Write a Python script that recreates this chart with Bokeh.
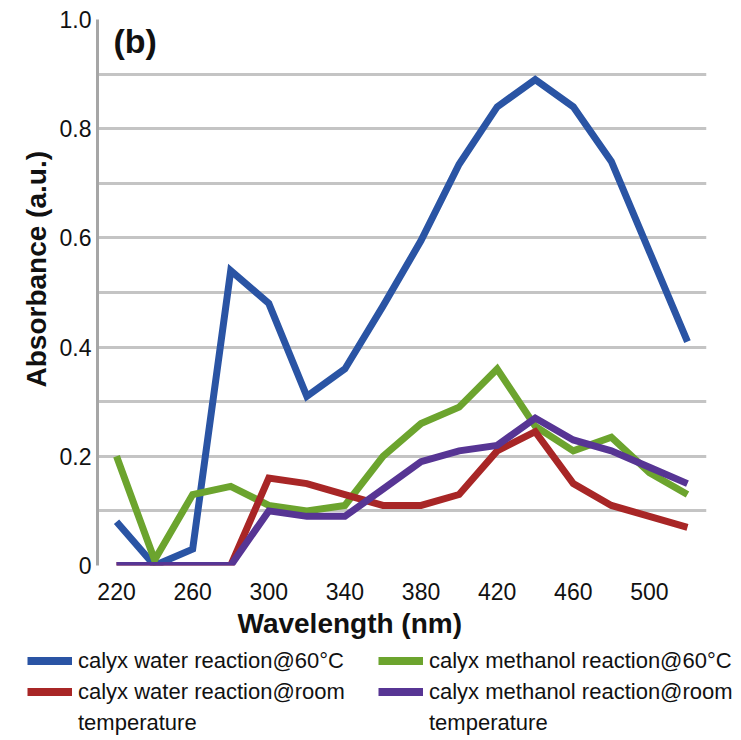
from bokeh.plotting import figure
from bokeh.models import FixedTicker, Label, Legend, LegendItem, Title
from bokeh.embed import file_html
from bokeh.resources import INLINE

wavelength = [220, 240, 260, 280, 300, 320, 340, 360, 380, 400, 420, 440, 460, 480, 500, 520]
water_60 = [0.08, 0.0, 0.03, 0.54, 0.48, 0.31, 0.36, 0.475, 0.595, 0.735, 0.84, 0.89, 0.84, 0.74, 0.575, 0.41]
methanol_60 = [0.20, 0.01, 0.13, 0.145, 0.11, 0.10, 0.11, 0.20, 0.26, 0.29, 0.36, 0.255, 0.21, 0.235, 0.17, 0.13]
water_room = [0.0, 0.0, 0.0, 0.0, 0.16, 0.15, 0.13, 0.11, 0.11, 0.13, 0.21, 0.245, 0.15, 0.11, 0.09, 0.07]
methanol_room = [0.0, 0.0, 0.0, 0.0, 0.10, 0.09, 0.09, 0.14, 0.19, 0.21, 0.22, 0.27, 0.23, 0.21, 0.18, 0.15]

x_tick_values = [220, 260, 300, 340, 380, 420, 460, 500]
y_tick_values = [0, 0.2, 0.4, 0.6, 0.8, 1]
y_grid_values = [0, 0.1, 0.2, 0.3, 0.4, 0.5, 0.6, 0.7, 0.8, 0.9, 1]

series_names = [
    "calyx water reaction@60°C",
    "calyx methanol reaction@60°C",
    "calyx water reaction@room",
    "calyx methanol reaction@room",
]
continuation = "temperature"
colors = ["#2A54A4", "#6CA42E", "#A82626", "#573594"]
series = [water_60, methanol_60, water_room, methanol_room]

FONT = "Liberation Sans"
TEXT = "#111111"

p = figure(frame_width=609, frame_height=546, output_backend="svg", toolbar_location=None,
           x_range=(210, 530), y_range=(0, 1.0),
           min_border_left=97, min_border_right=19, min_border_top=19, min_border_bottom=0)
p.outline_line_color = None

# grids
p.xgrid.visible = False
p.ygrid.ticker = FixedTicker(ticks=y_grid_values)
p.ygrid.grid_line_color = "#C4C4C4"
p.ygrid.grid_line_width = 3

# axes
p.xaxis.ticker = FixedTicker(ticks=x_tick_values)
p.xaxis.axis_line_color = None
p.xaxis.major_tick_line_color = None
p.xaxis.minor_tick_line_color = None
p.xaxis.major_tick_out = 0
p.xaxis.major_tick_in = 0
p.xaxis.minor_tick_out = 0
p.xaxis.major_label_text_font = FONT
p.xaxis.major_label_text_font_size = "23px"
p.xaxis.major_label_text_color = TEXT
p.xaxis.major_label_standoff = 17

p.yaxis.ticker = FixedTicker(ticks=y_tick_values)
p.yaxis.major_label_overrides = {0: "0", 1: "1.0"}
p.yaxis.axis_line_color = "#A6A6A6"
p.yaxis.axis_line_width = 3
p.yaxis.major_tick_line_color = None
p.yaxis.minor_tick_line_color = None
p.yaxis.major_tick_out = 0
p.yaxis.major_tick_in = 0
p.yaxis.minor_tick_out = 0
p.yaxis.major_label_text_font = FONT
p.yaxis.major_label_text_font_size = "23px"
p.yaxis.major_label_text_color = TEXT
p.yaxis.major_label_standoff = 6

for vals, c in zip(series, colors):
    p.line(wavelength, vals, line_color=c, line_width=7, line_join="miter")

# axis titles (offset to match the reference's placement)
p.add_layout(Title(text="Absorbance (a.u.)", align="left", offset=178, standoff=10,
                   text_font=FONT, text_font_style="bold", text_font_size="28px",
                   text_color=TEXT), "left")
p.add_layout(Title(text="Wavelength (nm)", align="left", offset=140, standoff=6,
                   text_font=FONT, text_font_style="bold", text_font_size="28px",
                   text_color=TEXT), "below")
p.add_layout(Label(x=16, y=544, x_units="screen", y_units="screen", text="(b)",
                   text_align="left", text_baseline="top",
                   text_font=FONT, text_font_style="bold", text_font_size="34px", text_color=TEXT))

# legend: a separate strip under the chart
leg = figure(width=741, height=100, output_backend="svg", toolbar_location=None,
             x_range=(210, 530), y_range=(0, 1.0),
             x_axis_location=None, y_axis_location=None,
             min_border_left=27, min_border_right=0, min_border_top=4, min_border_bottom=0)
leg.outline_line_color = None
leg.grid.visible = False
leg_renderers = [leg.line(wavelength, vals, line_color=c, line_width=8, visible=False)
                 for vals, c in zip(series, colors)]
blank_renderers = [leg.line(wavelength, vals, line_alpha=0, visible=False)
                   for vals in (water_room, methanol_room)]
items = [LegendItem(label=n, renderers=[r]) for n, r in zip(series_names, leg_renderers)]
items += [LegendItem(label=continuation, renderers=[r]) for r in blank_renderers]
legend = Legend(items=items, orientation="horizontal", ncols=2, location="top_left")
legend.label_text_font = FONT
legend.label_text_font_size = "22px"
legend.label_text_color = TEXT
legend.glyph_width = 45
legend.glyph_height = 31
legend.label_standoff = 6
legend.label_width = 300
legend.label_height = 31
legend.spacing = 0
legend.padding = 0
legend.margin = 0
legend.background_fill_alpha = 0
legend.border_line_color = None
leg.add_layout(legend, "center")

open("out.html", "w").write(file_html([p, leg], INLINE))
